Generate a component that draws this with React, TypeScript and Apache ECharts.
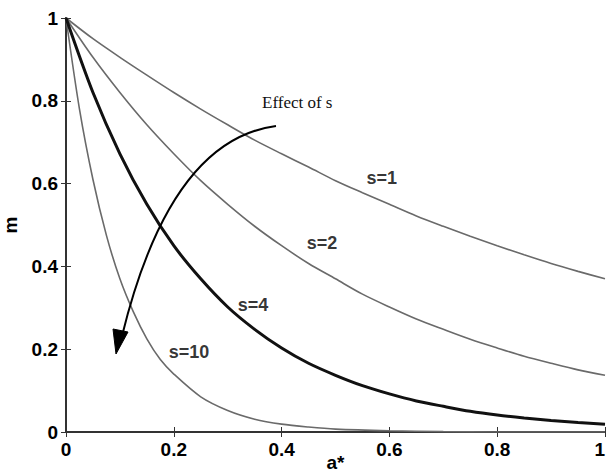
import React, { useEffect, useRef } from "react";
import * as echarts from "echarts";

const xTicks = [0, 0.2, 0.4, 0.6, 0.8, 1];
const xCommon = [0, 0.05, 0.1, 0.15, 0.2, 0.25, 0.3, 0.35, 0.4, 0.45, 0.5, 0.55, 0.6, 0.65, 0.7, 0.75, 0.8, 0.85, 0.9, 0.95, 1];
const s1 = [1, 0.95, 0.905, 0.862, 0.82, 0.78, 0.742, 0.705, 0.672, 0.64, 0.607, 0.578, 0.55, 0.522, 0.497, 0.473, 0.45, 0.428, 0.407, 0.388, 0.37];
const s2 = [1, 0.905, 0.82, 0.742, 0.672, 0.607, 0.55, 0.497, 0.45, 0.407, 0.37, 0.333, 0.302, 0.273, 0.248, 0.224, 0.203, 0.183, 0.166, 0.15, 0.137];
const s4 = [1, 0.82, 0.672, 0.55, 0.45, 0.37, 0.302, 0.248, 0.203, 0.166, 0.137, 0.112, 0.092, 0.075, 0.062, 0.05, 0.041, 0.034, 0.028, 0.023, 0.019];
const x10 = [0, 0.025, 0.05, 0.075, 0.1, 0.125, 0.15, 0.175, 0.2, 0.25, 0.3, 0.35, 0.4, 0.45, 0.5, 0.6, 0.7, 0.8, 1];
const s10 = [1, 0.78, 0.61, 0.475, 0.37, 0.29, 0.225, 0.175, 0.14, 0.085, 0.052, 0.031, 0.019, 0.012, 0.007, 0.003, 0.001, 0, 0];

const labels = [
  { text: "s=1", x: 0.586, y: 0.614 },
  { text: "s=2", x: 0.475, y: 0.457 },
  { text: "s=4", x: 0.347, y: 0.306 },
  { text: "s=10", x: 0.228, y: 0.193 },
];

const FONT = "Liberation Sans, Arial, sans-serif";

export default function App() {
  const ref = useRef<HTMLDivElement>(null);
  useEffect(() => {
    if (!ref.current) return;
    const chart = echarts.init(ref.current, null, { renderer: "svg" });
    const pair = (xs: number[], ys: number[]) => xs.map((x, i) => [x, ys[i]]);
    const axisLabel = { fontFamily: FONT, fontWeight: "bold", fontSize: 19, color: "#000", formatter: (v: number) => String(v) };
    const tick = { show: true, inside: true, length: 5, lineStyle: { color: "#333", width: 1 } };
    const line = { show: true, lineStyle: { color: "#333", width: 2 } };
    const grid = { left: 66, right: 2, top: 18, bottom: 41, containLabel: false, outerBoundsMode: "none" };
    const mkSeries = (name: string, data: number[][], color: string, width: number) => ({
      name,
      type: "line",
      data,
      showSymbol: false,
      symbol: "none",
      smooth: 0.3,
      lineStyle: { color, width },
      z: width > 2 ? 3 : 2,
    });
    const labelSeries = {
      type: "scatter",
      symbolSize: 0,
      data: labels.map((l) => ({ value: [l.x, l.y], name: l.text })),
      label: {
        show: true,
        formatter: (p: any) => p.name,
        position: "inside",
        fontFamily: FONT,
        fontWeight: "bold",
        fontSize: 18,
        color: "#000",
      },
      z: 5,
    };
    const p0 = [276, 126], c = [170, 140], p2 = [122, 336];
    chart.setOption({
      animation: false,
      grid,
      xAxis: [
        {
          type: "value", min: 0, max: 1, interval: 0.2,
          axisLine: line, axisTick: tick, splitLine: { show: false },
          axisLabel: { ...axisLabel, margin: 8, alignMaxLabel: "right" },
          name: "a*", nameLocation: "middle", nameGap: 21, nameMoveOverlap: false,
          nameTextStyle: { fontFamily: FONT, fontWeight: "bold", fontSize: 19, color: "#000" },
        },
        {
          type: "value", min: 0, max: 1, interval: 0.2, position: "top",
          axisLine: line, axisTick: tick, splitLine: { show: false }, axisLabel: { show: false },
        },
      ],
      yAxis: [
        {
          type: "value", min: 0, max: 1, interval: 0.2,
          axisLine: line, axisTick: tick, splitLine: { show: false },
          axisLabel: { ...axisLabel, margin: 8 },
          name: "m", nameLocation: "middle", nameGap: 46, nameRotate: 90, nameMoveOverlap: false,
          nameTextStyle: { fontFamily: FONT, fontWeight: "bold", fontSize: 19, color: "#000" },
        },
        {
          type: "value", min: 0, max: 1, interval: 0.2, position: "right",
          axisLine: line, axisTick: tick, splitLine: { show: false }, axisLabel: { show: false },
        },
      ],
      series: [
        mkSeries("s=1", pair(xCommon, s1), "#6a6a6a", 1.6),
        mkSeries("s=2", pair(xCommon, s2), "#6a6a6a", 1.6),
        mkSeries("s=4", pair(xCommon, s4), "#111", 3),
        mkSeries("s=10", pair(x10, s10), "#6a6a6a", 1.6),
        labelSeries,
      ],
      graphic: [
        {
          type: "text", left: 262, top: 94,
          style: { text: "Effect of s", fontFamily: "Liberation Serif, Times New Roman, serif", fontSize: 17, fill: "#111" },
          z: 10,
        },
        {
          type: "bezierCurve",
          shape: { x1: p0[0], y1: p0[1], cpx1: c[0], cpy1: c[1], x2: p2[0], y2: p2[1] },
          style: { stroke: "#000", lineWidth: 2, fill: "none" },
          z: 10,
        },
        {
          type: "polygon",
          shape: { points: [[116, 354], [128, 332], [113, 329]] },
          style: { fill: "#000", stroke: "#000" },
          z: 10,
        },
      ],
    });
    return () => chart.dispose();
  }, []);
  return <div ref={ref} style={{ position: "fixed", left: 0, top: 0, width: 607, height: 473, background: "#fff" }} />;
}
